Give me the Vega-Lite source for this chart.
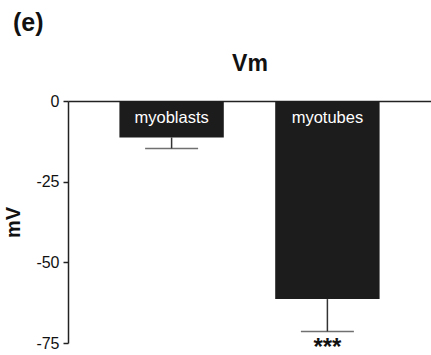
{
  "$schema": "https://vega.github.io/schema/vega-lite/v6.json",
  "autosize": {"type": "none"},
  "width": 363,
  "height": 242,
  "padding": {"left": 68, "top": 101, "right": 0, "bottom": 12},
  "background": "white",
  "config": {"view": {"stroke": null}, "font": "Liberation Sans"},
  "title": {"text": "(e)", "anchor": "start", "frame": "group", "dx": -55, "offset": 16, "fontSize": 25, "fontWeight": "bold", "font": "Liberation Sans", "color": "#111"},
  "data": {"values": [
    {"cell": "myoblasts", "mean": -11.3, "lo": -14.7, "sig": ""},
    {"cell": "myotubes", "mean": -61.4, "lo": -71.4, "sig": "***"}
  ]},
  "encoding": {
    "x": {"field": "cell", "type": "nominal", "sort": null,
      "scale": {"paddingInner": 0.33, "paddingOuter": 0.33},
      "axis": {"orient": "top", "labels": false, "ticks": false, "domain": true, "domainColor": "#222", "domainWidth": 1.5, "title": "Vm", "titleFontSize": 23, "titleFontWeight": "bold", "titleColor": "#111", "titlePadding": 26}}
  },
  "layer": [
    {"mark": {"type": "bar", "color": "#1c1c1c"},
     "encoding": {"y": {"field": "mean", "type": "quantitative",
       "scale": {"domain": [-75, 0], "nice": false},
       "axis": {"values": [0, -25, -50, -75], "labelExpr": "'' + datum.value", "grid": false, "tickSize": 5, "tickColor": "#222", "tickWidth": 1.5, "domainColor": "#222", "domainWidth": 1.5, "labelFontSize": 16, "labelColor": "#111", "labelPadding": 4, "title": "mV", "titleFontSize": 20, "titleFontWeight": "bold", "titleColor": "#111", "titlePadding": 12}}}},
    {"mark": {"type": "rule", "color": "#333", "strokeWidth": 1.5},
     "encoding": {"y": {"field": "mean", "type": "quantitative"}, "y2": {"field": "lo"}}},
    {"mark": {"type": "tick", "orient": "horizontal", "color": "#333", "thickness": 1.5, "size": 53},
     "encoding": {"y": {"field": "lo", "type": "quantitative"}}},
    {"mark": {"type": "text", "color": "white", "fontSize": 16.5, "baseline": "middle", "dy": 17},
     "encoding": {"y": {"datum": 0}, "text": {"field": "cell"}}},
    {"mark": {"type": "text", "color": "#111", "fontSize": 24, "fontWeight": "bold", "baseline": "middle", "dy": 17},
     "encoding": {"y": {"field": "lo", "type": "quantitative"}, "text": {"field": "sig"}}}
  ]
}
